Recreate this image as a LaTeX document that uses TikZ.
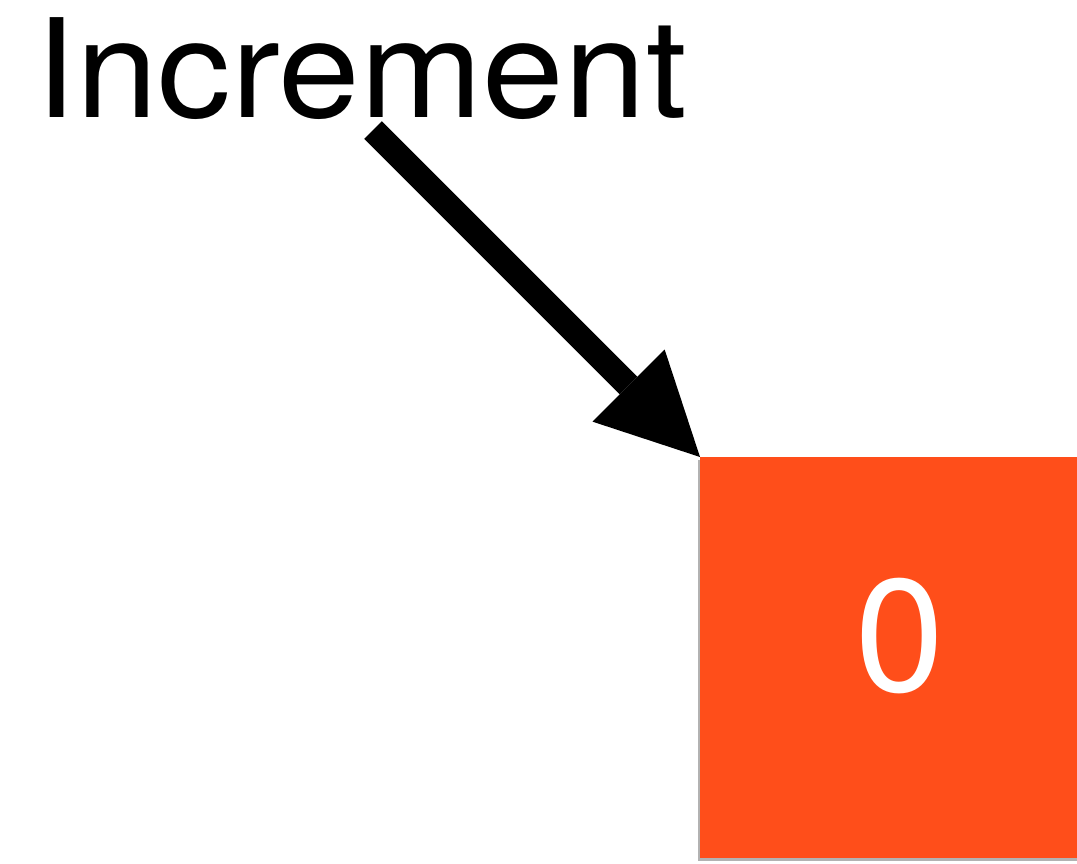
\documentclass[tikz,border=0pt]{standalone}
\usepackage{fontspec}
\setmainfont{TeX Gyre Heros}
\usetikzlibrary{positioning,arrows.meta,shadows}

\definecolor{cellred}{HTML}{FF4E1A}

\begin{document}
\begin{tikzpicture}[
    x=0.02cm, y=-0.02cm,
    lbl/.style={inner sep=0pt, font=\fontsize{78}{80}\selectfont\addfontfeature{FakeStretch=1.072}},
    cellbox/.style={fill=cellred, inner sep=0pt, minimum width=8cm, minimum height=8.02cm,
        drop shadow={shadow xshift=-0.04cm, shadow yshift=-0.06cm, opacity=0.3, fill=black}},
    val/.style={inner sep=0pt, text=white, font=\fontsize{91}{93}\selectfont},
    incr/.style={line width=0.5cm, -{Triangle[length=2.02cm, width=2.04cm, line width=0pt]}}
]
    \clip (0,0) rectangle (1077,863);

    \node[lbl, anchor=base west] (inc) at (35,117) {Increment};

    \node[cellbox, anchor=north west] (cell) at (700,457) {};
    \node[val] (zero) at ([yshift=0.43cm]cell.center) {0};

    % arrow from the label down to the corner of the cell
    \coordinate (tail) at (373,130);
    \draw[incr] (tail) -- (cell.north west);
\end{tikzpicture}
\end{document}
